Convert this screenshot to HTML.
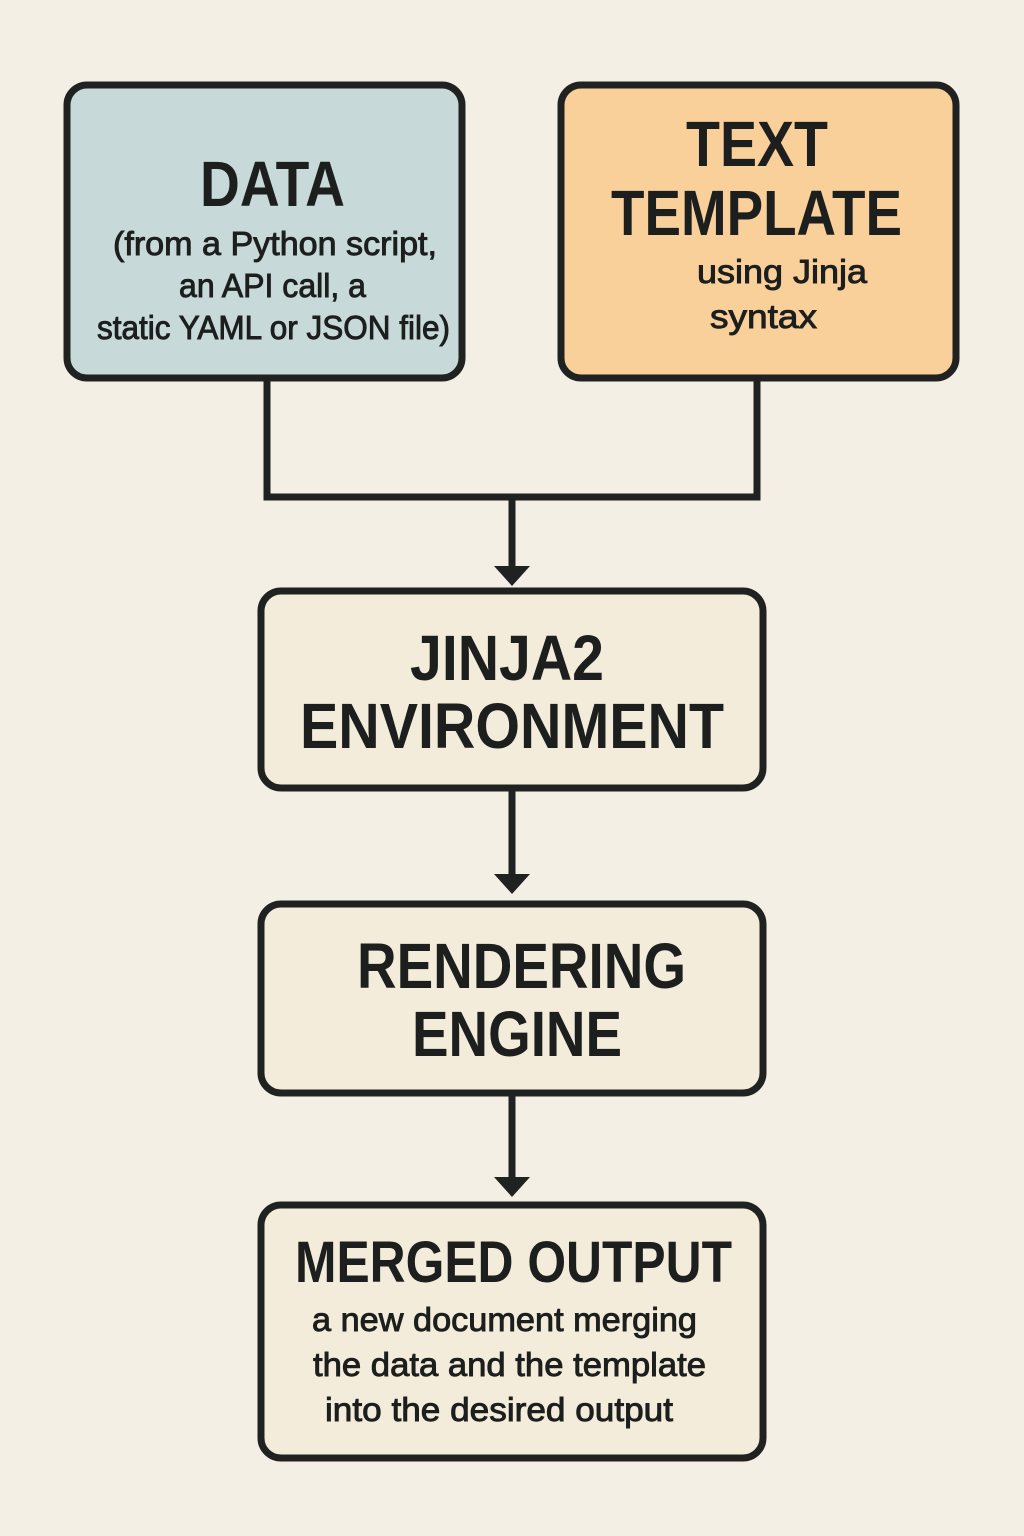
<!DOCTYPE html>
<html><head><meta charset="utf-8"><style>
html,body{margin:0;padding:0;background:#f4efe4;}
svg{display:block}
text{font-family:"Liberation Sans","DejaVu Sans",sans-serif;fill:#1c1f1e;}
.h{font-weight:bold;font-size:64px;}
.s{font-size:33px;stroke:#1c1f1e;stroke-width:0.9px;}
</style></head><body>
<svg width="1024" height="1536" viewBox="0 0 1024 1536" xmlns="http://www.w3.org/2000/svg">
<rect width="1024" height="1536" fill="#f4efe4"/>
<g stroke="#1f2220" stroke-width="7" fill="none">
<path d="M267 380 V497 H757 V380"/>
<line x1="512" y1="497" x2="512" y2="572"/>
<line x1="512" y1="790" x2="512" y2="880"/>
<line x1="512" y1="1095" x2="512" y2="1183"/>
</g>
<g fill="#1f2220">
<polygon points="494,566 530,566 512,586"/>
<polygon points="494,874 530,874 512,894"/>
<polygon points="494,1177 530,1177 512,1197"/>
</g>
<g stroke="#1f2220" stroke-width="7">
<rect x="67" y="85" width="395" height="293" rx="20" fill="#c7d9d8"/>
<rect x="561" y="85" width="395" height="293" rx="20" fill="#f9cf9a"/>
<rect x="261" y="591" width="502" height="197" rx="20" fill="#f3ecdb"/>
<rect x="261" y="904" width="502" height="189" rx="20" fill="#f3ecdb"/>
<rect x="261" y="1205" width="502" height="253" rx="20" fill="#f3ecdb"/>
</g>
<text class="h" x="200" y="206" textLength="145" lengthAdjust="spacingAndGlyphs">DATA</text>
<text class="s" x="113" y="255" textLength="324" lengthAdjust="spacingAndGlyphs">(from a Python script,</text>
<text class="s" x="179" y="297" textLength="187" lengthAdjust="spacingAndGlyphs">an API call, a</text>
<text class="s" x="97" y="339" textLength="353" lengthAdjust="spacingAndGlyphs">static YAML or JSON file)</text>
<text class="h" x="686" y="166" textLength="142" lengthAdjust="spacingAndGlyphs">TEXT</text>
<text class="h" x="611" y="235" textLength="291" lengthAdjust="spacingAndGlyphs">TEMPLATE</text>
<text class="s" x="697" y="283" textLength="170" lengthAdjust="spacingAndGlyphs">using Jinja</text>
<text class="s" x="710" y="328" textLength="107" lengthAdjust="spacingAndGlyphs">syntax</text>
<text class="h" x="410" y="680" textLength="194" lengthAdjust="spacingAndGlyphs">JINJA2</text>
<text class="h" x="300" y="748" textLength="424" lengthAdjust="spacingAndGlyphs">ENVIRONMENT</text>
<text class="h" x="357" y="988" textLength="329" lengthAdjust="spacingAndGlyphs">RENDERING</text>
<text class="h" x="412" y="1056" textLength="210" lengthAdjust="spacingAndGlyphs">ENGINE</text>
<text class="h" x="295" y="1282" textLength="437" lengthAdjust="spacingAndGlyphs" style="font-size:58px">MERGED OUTPUT</text>
<text class="s" x="312" y="1331" textLength="385" lengthAdjust="spacingAndGlyphs">a new document merging</text>
<text class="s" x="313" y="1376" textLength="393" lengthAdjust="spacingAndGlyphs">the data and the template</text>
<text class="s" x="325" y="1421" textLength="348" lengthAdjust="spacingAndGlyphs">into the desired output</text>
</svg>
</body></html>
